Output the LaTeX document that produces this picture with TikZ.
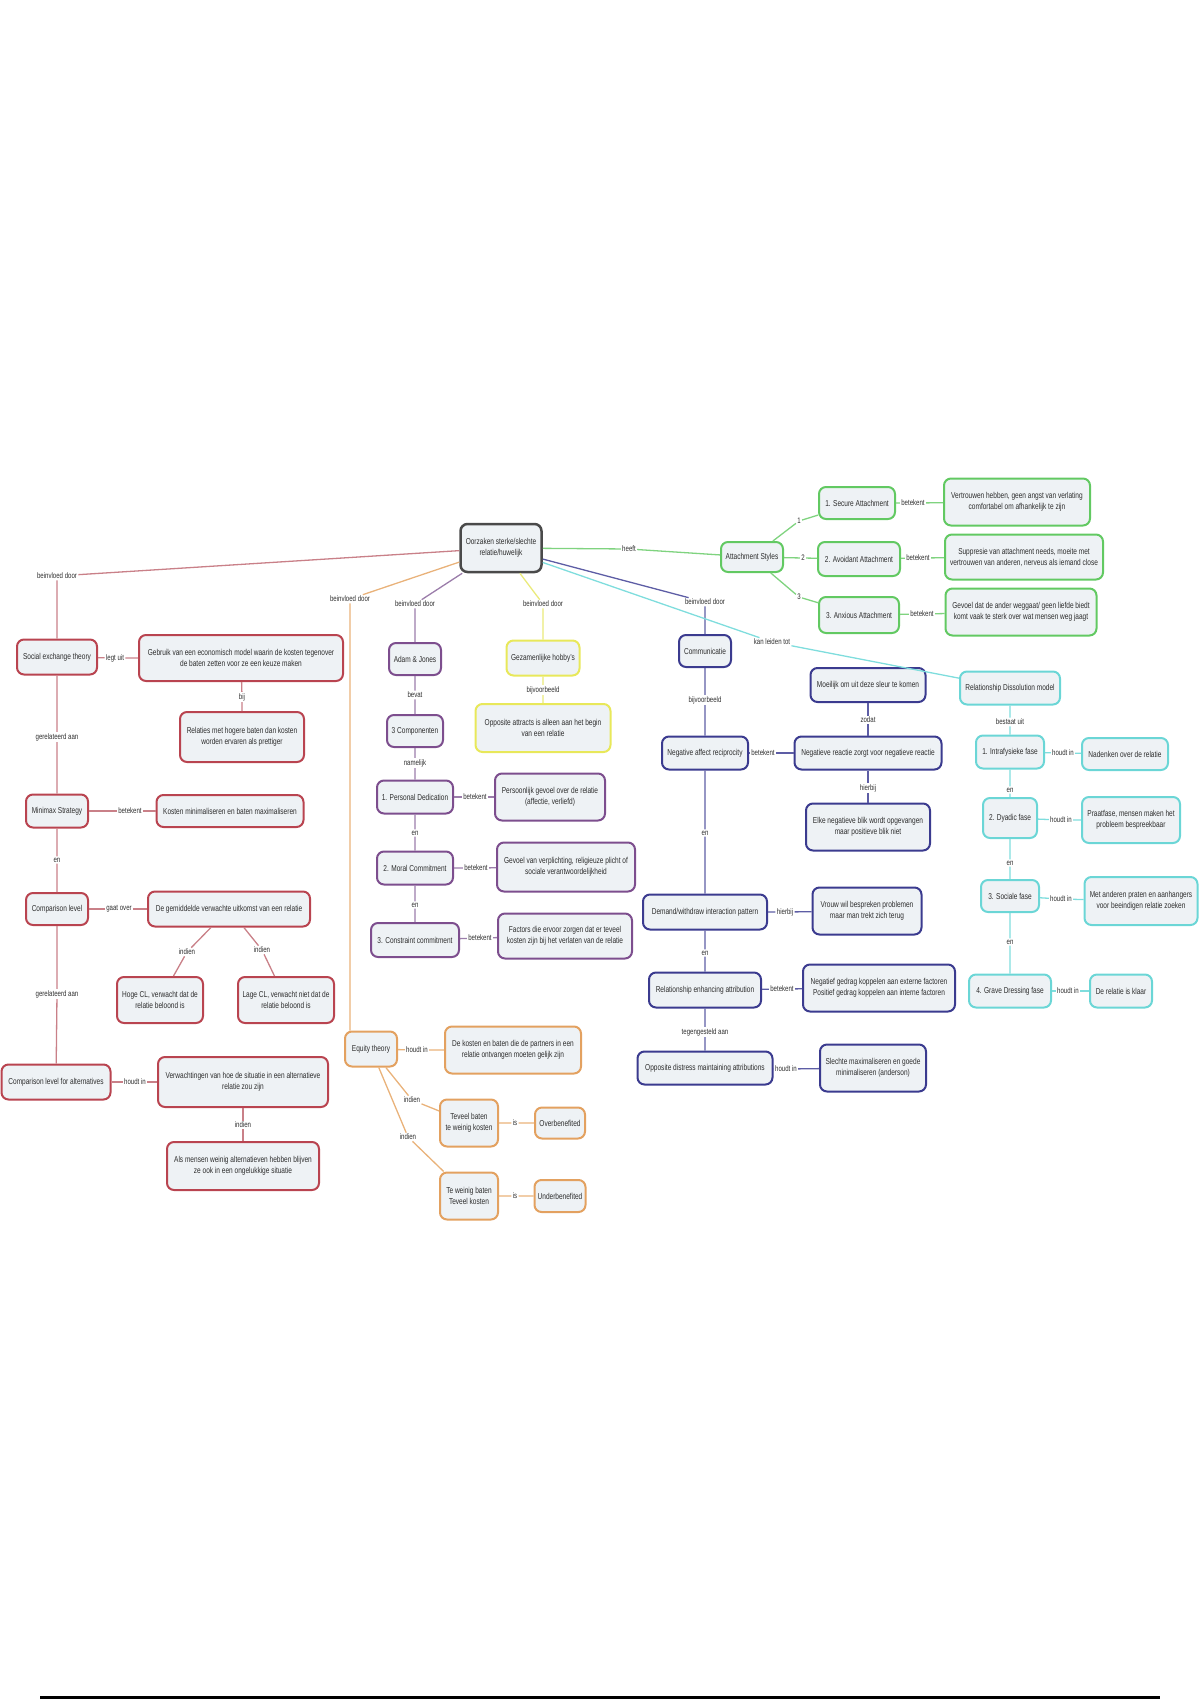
\documentclass[tikz,border=0pt]{standalone}
\usepackage{fontspec}
\setmainfont{Liberation Sans}[FakeStretch=0.76]
\definecolor{fillc}{HTML}{EEF2F5}
\definecolor{txt}{HTML}{2E2E2E}
\definecolor{redb}{HTML}{B94450}\definecolor{redl}{HTML}{C98088}
\definecolor{orb}{HTML}{E3A160}\definecolor{orl}{HTML}{E9B27A}
\definecolor{pub}{HTML}{7D4E8E}\definecolor{pul}{HTML}{9B7DAA}
\definecolor{yeb}{HTML}{E8E85A}\definecolor{yel}{HTML}{EAEA7A}
\definecolor{nab}{HTML}{3B3B8F}\definecolor{nal}{HTML}{5D5DA5}
\definecolor{cyb}{HTML}{6BD6D6}\definecolor{cyl}{HTML}{7FDDDD}
\definecolor{grb}{HTML}{62C962}\definecolor{grl}{HTML}{7FD37F}
\definecolor{ceb}{HTML}{4A4A4A}
\tikzset{
  box/.style={draw=#1, rounded corners=7pt, line width=2pt, fill=fillc, align=center,
    font=\fontsize{8.6}{11}\selectfont, text=txt, inner sep=2pt},
  lbl/.style={fill=white, font=\fontsize{8}{9.5}\selectfont, text=txt, inner sep=1.2pt},
  conn/.style={draw=#1, line width=1.3pt},
}
\newcommand\bx[6]{\node[box=#1, minimum width=#4pt, minimum height=#5pt] (#2) at (#3) {#6};}
\newcommand\lb[3]{\node[lbl] (#1) at (#2) {#3};}
\begin{document}
\begin{tikzpicture}[x=1pt,y=-1pt]
\useasboundingbox (0,0) rectangle (1200,1700);
% central
\node[box=ceb, line width=2.5pt, minimum width=81pt, minimum height=48pt] (C) at (501,548) {Oorzaken sterke/slechte\\relatie/huwelijk};
% ---------- green
\lb{lgr}{629,549}{heeft}
\bx{grb}{AS}{752,557}{62}{30}{Attachment Styles}
\bx{grb}{SA}{857,503}{76}{32}{1. Secure Attachment}
\bx{grb}{AvA}{859,559}{82}{34}{2. Avoidant Attachment}
\bx{grb}{AnA}{859,615}{80}{36}{3. Anxious Attachment}
\bx{grb}{SAd}{1017,502}{146}{47}{Vertrouwen hebben, geen angst van verlating\\comfortabel om afhankelijk te zijn}
\bx{grb}{AvAd}{1024,557}{158}{45}{Suppresie van attachment needs, moeite met\\vertrouwen van anderen, nerveus als iemand close}
\bx{grb}{AnAd}{1021,612}{151}{47}{Gevoel dat de ander weggaat/ geen liefde biedt\\komt vaak te sterk over wat mensen weg jaagt}
\lb{g1}{799,521}{1}
\lb{g2}{803,558}{2}
\lb{g3}{799,597}{3}
\lb{gb1}{913,503}{betekent}
\lb{gb2}{918,558}{betekent}
\lb{gb3}{922,614}{betekent}
% ---------- red
\lb{lre}{57,576}{beinvloed door}
\bx{redb}{SET}{57,657}{80}{35}{Social exchange theory}
\lb{r1}{115,658}{legt uit}
\bx{redb}{SETd}{241,658}{204}{46}{Gebruik van een economisch model waarin de kosten tegenover\\de baten zetten voor ze een keuze maken}
\lb{r2}{242,697}{bij}
\bx{redb}{Rel}{242,737}{124}{50}{Relaties met hogere baten dan kosten\\worden ervaren als prettiger}
\lb{r3}{57,737}{gerelateerd aan}
\bx{redb}{MM}{57,811}{62}{33}{Minimax Strategy}
\lb{r4}{130,811}{betekent}
\bx{redb}{MMd}{230,811}{147}{32}{Kosten minimaliseren en baten maximaliseren}
\lb{r5}{57,860}{en}
\bx{redb}{CL}{57,909}{62}{32}{Comparison level}
\lb{r6}{119,909}{gaat over}
\bx{redb}{CLd}{229,909}{162}{35}{De gemiddelde verwachte uitkomst van een relatie}
\lb{r7}{187,952}{indien}
\lb{r8}{262,950}{indien}
\bx{redb}{HCL}{160,1000}{86}{46}{Hoge CL, verwacht dat de\\relatie beloond is}
\bx{redb}{LCL}{286,1000}{96}{46}{Lage CL, verwacht niet dat de\\relatie beloond is}
\lb{r9}{57,994}{gerelateerd aan}
\bx{redb}{CLA}{56,1082}{109}{35}{Comparison level for alternatives}
\lb{r10}{135,1082}{houdt in}
\bx{redb}{CLAd}{243,1082}{170}{50}{Verwachtingen van hoe de situatie in een alternatieve\\relatie zou zijn}
\lb{r11}{243,1125}{indien}
\bx{redb}{CLAe}{243,1166}{152}{48}{Als mensen weinig alternatieven hebben blijven\\ze ook in een ongelukkige situatie}
% ---------- orange
\lb{lor}{350,599}{beinvloed door}
\bx{orb}{Eq}{371,1049}{52}{35}{Equity theory}
\lb{o1}{417,1050}{houdt in}
\bx{orb}{Eqd}{513,1050}{136}{47}{De kosten en baten die de partners in een\\relatie ontvangen moeten gelijk zijn}
\lb{o2}{412,1100}{indien}
\lb{o3}{408,1137}{indien}
\bx{orb}{OB1}{469,1123}{58}{47}{Teveel baten\\te weinig kosten}
\lb{o4}{515,1123}{is}
\bx{orb}{OB}{560,1123}{50}{31}{Overbenefited}
\bx{orb}{UB1}{469,1196}{58}{47}{Te weinig baten\\Teveel kosten}
\lb{o5}{515,1196}{is}
\bx{orb}{UB}{560,1196}{51}{32}{Underbenefited}
% ---------- purple
\lb{lpu}{415,604}{beinvloed door}
\bx{pub}{AJ}{415,659}{52}{32}{Adam \& Jones}
\lb{p1}{415,695}{bevat}
\bx{pub}{C3}{415,731}{56}{32}{3 Componenten}
\lb{p2}{415,763}{namelijk}
\bx{pub}{PD}{415,797}{76}{33}{1. Personal Dedication}
\lb{p3}{475,797}{betekent}
\bx{pub}{PDd}{550,797}{110}{47}{Persoonlijk gevoel over de relatie\\(affectie, verliefd)}
\lb{p4}{415,833}{en}
\bx{pub}{MC}{415,868}{76}{33}{2. Moral Commitment}
\lb{p5}{476,868}{betekent}
\bx{pub}{MCd}{566,867}{138}{49}{Gevoel van verplichting, religieuze plicht of\\sociale verantwoordelijkheid}
\lb{p6}{415,905}{en}
\bx{pub}{CC}{415,940}{88}{34}{3. Constraint commitment}
\lb{p7}{480,938}{betekent}
\bx{pub}{CCd}{565,936}{134}{45}{Factors die ervoor zorgen dat er teveel\\kosten zijn bij het verlaten van de relatie}
% ---------- yellow
\lb{lye}{543,604}{beinvloed door}
\bx{yeb}{Gez}{543,658}{73}{35}{Gezamenlijke hobby's}
\lb{y1}{543,690}{bijvoorbeeld}
\bx{yeb}{Opp}{543,728}{135}{48}{Opposite attracts is alleen aan het begin\\van een relatie}
% ---------- navy
\lb{lna}{705,602}{beinvloed door}
\bx{nab}{Comm}{705,651}{52}{32}{Communicatie}
\lb{n1}{705,700}{bijvoorbeeld}
\bx{nab}{NAR}{705,753}{86}{33}{Negative affect reciprocity}
\lb{n2}{763,753}{betekent}
\bx{nab}{NARd}{868,753}{147}{33}{Negatieve reactie zorgt voor negatieve reactie}
\lb{n3}{868,720}{zodat}
\bx{nab}{Sleur}{868,685}{115}{34}{Moeilijk om uit deze sleur te komen}
\lb{n4}{868,788}{hierbij}
\bx{nab}{Blik}{868,827}{124}{47}{Elke negatieve blik wordt opgevangen\\maar positieve blik niet}
\lb{n5}{705,833}{en}
\bx{nab}{DW}{705,912}{124}{35}{Demand/withdraw interaction pattern}
\lb{n6}{785,912}{hierbij}
\bx{nab}{DWd}{867,911}{109}{47}{Vrouw wil bespreken problemen\\maar man trekt zich terug}
\lb{n7}{705,953}{en}
\bx{nab}{REA}{705,990}{112}{35}{Relationship enhancing attribution}
\lb{n8}{782,989}{betekent}
\bx{nab}{READ}{879,988}{152}{47}{Negatief gedrag koppelen aan externe factoren\\Positief gedrag koppelen aan interne factoren}
\lb{n9}{705,1032}{tegengesteld aan}
\bx{nab}{ODMA}{705,1068}{135}{33}{Opposite distress maintaining attributions}
\lb{n10}{786,1069}{houdt in}
\bx{nab}{ODMAd}{873,1068}{106}{47}{Slechte maximaliseren en goede\\minimaliseren (anderson)}
% ---------- cyan
\lb{lcy}{772,642}{kan leiden tot}
\bx{cyb}{RDM}{1010,688}{100}{33}{Relationship Dissolution model}
\lb{c1}{1010,722}{bestaat uit}
\bx{cyb}{P1}{1010,752}{68}{33}{1. Intrafysieke fase}
\lb{c2}{1063,753}{houdt in}
\bx{cyb}{P1d}{1125,754}{86}{32}{Nadenken over de relatie}
\lb{c3}{1010,790}{en}
\bx{cyb}{P2}{1010,818}{54}{40}{2. Dyadic fase}
\lb{c4}{1061,820}{houdt in}
\bx{cyb}{P2d}{1131,820}{98}{46}{Praatfase, mensen maken het\\probleem bespreekbaar}
\lb{c5}{1010,863}{en}
\bx{cyb}{P3}{1010,896}{58}{32}{3. Sociale fase}
\lb{c6}{1061,899}{houdt in}
\bx{cyb}{P3d}{1141,901}{113}{48}{Met anderen praten en aanhangers\\voor beeindigen relatie zoeken}
\lb{c7}{1010,942}{en}
\bx{cyb}{P4}{1010,991}{82}{33}{4. Grave Dressing fase}
\lb{c8}{1068,991}{houdt in}
\bx{cyb}{P4d}{1121,991}{62}{33}{De relatie is klaar}
% ================= connectors
\draw[conn=grl] (C) -- (lgr) -- (AS);
\draw[conn=grl] (AS) -- (g1) -- (SA);
\draw[conn=grl] (AS) -- (g2) -- (AvA);
\draw[conn=grl] (AS) -- (g3) -- (AnA);
\draw[conn=grl] (SA) -- (gb1) -- (SAd);
\draw[conn=grl] (AvA) -- (gb2) -- (AvAd);
\draw[conn=grl] (AnA) -- (gb3) -- (AnAd);
% red
\draw[conn=redl] (C) -- (lre) -- (SET) -- (r3) -- (MM) -- (r5) -- (CL) -- (r9) -- (CLA);
\draw[conn=redl] (SET) -- (r1) -- (SETd) -- (r2) -- (Rel);
\draw[conn=redl] (MM) -- (r4) -- (MMd);
\draw[conn=redl] (CL) -- (r6) -- (CLd);
\draw[conn=redl] (CLd) -- (r7) -- (HCL);
\draw[conn=redl] (CLd) -- (r8) -- (LCL);
\draw[conn=redl] (CLA) -- (r10) -- (CLAd) -- (r11) -- (CLAe);
% orange
\draw[conn=orl] (C) -- (lor) -- (lor |- Eq.north);
\draw[conn=orl] (Eq) -- (o1) -- (Eqd);
\draw[conn=orl] (Eq) -- (o2) -- (OB1) -- (o4) -- (OB);
\draw[conn=orl] (Eq) -- (o3) -- (UB1) -- (o5) -- (UB);
% purple
\draw[conn=pul] (C) -- (lpu) -- (AJ) -- (p1) -- (C3) -- (p2) -- (PD) -- (p4) -- (MC) -- (p6) -- (CC);
\draw[conn=pul] (PD) -- (p3) -- (PDd);
\draw[conn=pul] (MC) -- (p5) -- (MCd);
\draw[conn=pul] (CC) -- (p7) -- (CCd);
% yellow
\draw[conn=yel] (C) -- (lye) -- (Gez) -- (y1) -- (Opp);
% navy
\draw[conn=nal] (C) -- (lna) -- (Comm) -- (n1) -- (NAR) -- (n5) -- (DW) -- (n7) -- (REA) -- (n9) -- (ODMA);
\draw[conn=nal] (NAR) -- (n2) -- (NARd);
\draw[conn=nal] (Sleur) -- (n3) -- (NARd) -- (n4) -- (Blik);
\draw[conn=nal] (DW) -- (n6) -- (DWd);
\draw[conn=nal] (REA) -- (n8) -- (READ);
\draw[conn=nal] (ODMA) -- (n10) -- (ODMAd);
% cyan
\draw[conn=cyl] (C) -- (lcy) -- (RDM) -- (c1) -- (P1) -- (c3) -- (P2) -- (c5) -- (P3) -- (c7) -- (P4);
\draw[conn=cyl] (P1) -- (c2) -- (P1d);
\draw[conn=cyl] (P2) -- (c4) -- (P2d);
\draw[conn=cyl] (P3) -- (c6) -- (P3d);
\draw[conn=cyl] (P4) -- (c8) -- (P4d);
% bottom rule
\draw[line width=3pt] (40,1697) -- (1160,1697);
\end{tikzpicture}
\end{document}
